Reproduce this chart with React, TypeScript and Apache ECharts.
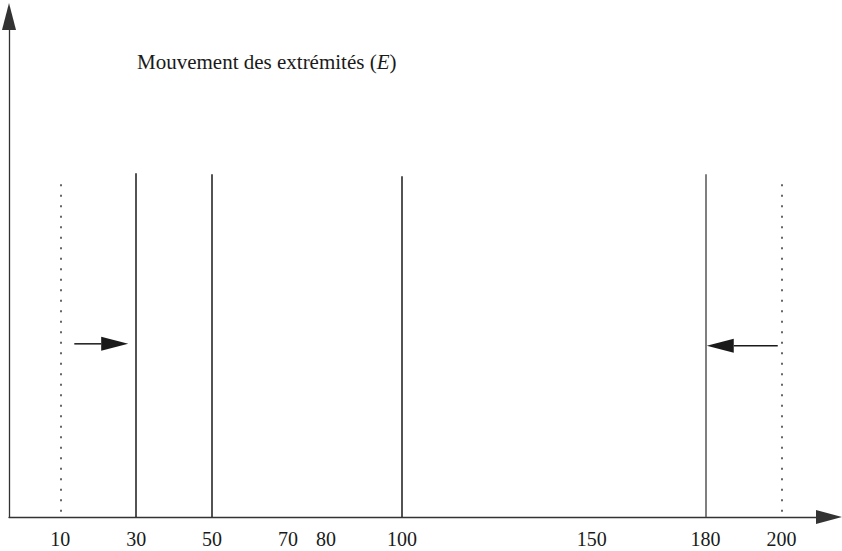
import React, { useEffect, useRef } from "react";
import * as echarts from "echarts";

// x positions of the marked lines (axis units)
const tickValues = [10, 30, 50, 70, 80, 100, 150, 180, 200];
const solidLines = [30, 50, 100, 180];
const solidTops = [68.7, 68.5, 68.1, 68.5];
const solidColors = ["#1a1a1a", "#1a1a1a", "#1a1a1a", "#555555"];
const dottedLines = [10, 200];
const dottedTop = 66.5;
// movement arrows: start x, tip x, y
const arrowFrom = [13.7, 199.0];
const arrowTo = [27.9, 180.3];
const arrowY = [34.6, 34.2];

const titleText = "Mouvement des extrémités (";
const titleItalic = "E";

const FONT = "'Liberation Serif', 'Times New Roman', Times, serif";

export default function App() {
  const ref = useRef<HTMLDivElement>(null);

  useEffect(() => {
    if (!ref.current) return;
    const chart = echarts.init(ref.current, null, { renderer: "svg" });

    const solidData = solidLines.map((x, i) => [
      { coord: [x, solidTops[i]], lineStyle: { color: solidColors[i], width: 1.5, type: "solid" } },
      { coord: [x, 0] },
    ]);
    const dottedData = dottedLines.map((x) => [
      { coord: [x, dottedTop] },
      { coord: [x, 0] },
    ]);
    const arrowData = arrowFrom.map((x, i) => [x, arrowTo[i], arrowY[i]]);

    const axisLineStyle = { color: "#333333", width: 1.3 };
    const HEAD_LEN = 27;
    const HEAD_HALF = 7;

    chart.setOption({
      animation: false,
      backgroundColor: "#ffffff",
      title: {
        text: `{a|${titleText}}{b|${titleItalic}}{a|)}`,
        left: 137,
        top: 51,
        padding: 0,
        textStyle: {
          fontWeight: "normal",
          rich: {
            a: { fontFamily: FONT, fontSize: 21, fontWeight: "normal", color: "#1a1a1a" },
            b: { fontFamily: FONT, fontSize: 21, fontWeight: "normal", fontStyle: "italic", color: "#1a1a1a" },
          },
        },
      },
      grid: {
        left: 9,
        right: 13,
        top: 16.5,
        bottom: 34,
        containLabel: false,
        outerBoundsMode: "none",
      },
      xAxis: {
        type: "value",
        min: -3.5,
        max: 212.5,
        axisLine: {
          show: true,
          onZero: false,
          symbol: ["none", "triangle"],
          symbolSize: [14, 26],
          lineStyle: axisLineStyle,
        },
        axisTick: { show: false },
        splitLine: { show: false },
        axisLabel: {
          show: true,
          customValues: tickValues,
          margin: 12,
          fontFamily: FONT,
          fontSize: 20,
          color: "#1a1a1a",
          hideOverlap: false,
        },
      },
      yAxis: {
        type: "value",
        min: 0,
        max: 100,
        axisLine: {
          show: true,
          onZero: false,
          symbol: ["none", "triangle"],
          symbolSize: [14, 27],
          lineStyle: axisLineStyle,
        },
        axisTick: { show: false },
        splitLine: { show: false },
        axisLabel: { show: false },
      },
      series: [
        {
          type: "line",
          data: [],
          silent: true,
          markLine: {
            silent: true,
            symbol: ["none", "none"],
            label: { show: false },
            emphasis: { disabled: true },
            lineStyle: { color: "#1a1a1a", width: 1.5, type: "solid" },
            data: solidData,
          },
        },
        {
          type: "line",
          data: [],
          silent: true,
          markLine: {
            silent: true,
            symbol: ["none", "none"],
            label: { show: false },
            emphasis: { disabled: true },
            lineStyle: { color: "#666666", width: 2, type: [2, 8.5] },
            data: dottedData,
          },
        },
        {
          type: "custom",
          silent: true,
          data: arrowData,
          encode: { x: [0, 1], y: 2 },
          renderItem: (params: any, api: any) => {
            const p0 = api.coord([api.value(0), api.value(2)]);
            const p1 = api.coord([api.value(1), api.value(2)]);
            const dir = p1[0] >= p0[0] ? 1 : -1;
            const baseX = p1[0] - dir * HEAD_LEN;
            return {
              type: "group",
              children: [
                {
                  type: "line",
                  shape: { x1: p0[0], y1: p0[1], x2: baseX, y2: p1[1] },
                  style: { stroke: "#1a1a1a", lineWidth: 1.5 },
                },
                {
                  type: "polygon",
                  shape: {
                    points: [
                      [p1[0], p1[1]],
                      [baseX, p1[1] - HEAD_HALF],
                      [baseX, p1[1] + HEAD_HALF],
                    ],
                  },
                  style: { fill: "#1a1a1a", stroke: "none" },
                },
              ],
            };
          },
        },
      ],
    });

    return () => chart.dispose();
  }, []);

  return (
    <div
      ref={ref}
      style={{ position: "absolute", left: 0, top: 0, width: 842, height: 551, background: "#fff" }}
    />
  );
}
